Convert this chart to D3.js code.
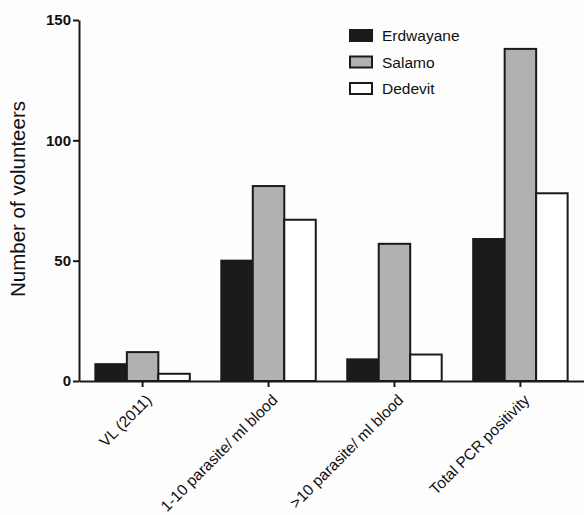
<!DOCTYPE html>
<html>
<head>
<meta charset="utf-8">
<script src="https://cdn.jsdelivr.net/npm/d3@7/dist/d3.min.js"></script>
<style>
  html, body { margin: 0; padding: 0; background: #fdfdfd; }
  svg { display: block; }
  text { font-family: "Liberation Sans", Arial, Helvetica, sans-serif; }
</style>
</head>
<body>
<svg id="chart" width="584" height="515"></svg>
<script>
// Categories, series and axis ticks
const categories = ["VL (2011)", "1-10 parasite/ ml blood", ">10 parasite/ ml blood", "Total PCR positivity"];
const seriesNames = ["Erdwayane", "Salamo", "Dedevit"];
const erdwayane = [7, 50, 9, 59];
const salamo = [12, 81, 57, 138];
const dedevit = [3, 67, 11, 78];
const yTicks = [0, 50, 100, 150];
const seriesColors = ["#1b1b1b", "#b1b1b1", "#ffffff"];

const seriesValues = [erdwayane, salamo, dedevit];

const svg = d3.select("#chart");
const margin = { left: 79, right: 0, top: 20, bottom: 134 };
const width = 584, height = 515;
const y0 = height - margin.bottom;

const x = d3.scaleBand()
  .domain(categories)
  .range([margin.left, width])
  .paddingInner(0.25)
  .paddingOuter(0.13);

const xSub = d3.scaleBand()
  .domain(seriesNames)
  .range([0, x.bandwidth()]);

const y = d3.scaleLinear()
  .domain([0, 150])
  .range([y0, margin.top]);

const color = d3.scaleOrdinal().domain(seriesNames).range(seriesColors);

// Bars
const groups = svg.append("g")
  .selectAll("g")
  .data(categories)
  .join("g")
  .attr("transform", d => `translate(${x(d)},0)`);

groups.selectAll("rect")
  .data((c, i) => seriesNames.map((s, k) => ({ s, v: seriesValues[k][i] })))
  .join("rect")
  .attr("x", d => xSub(d.s))
  .attr("y", d => y(d.v))
  .attr("width", xSub.bandwidth())
  .attr("height", d => y0 - y(d.v))
  .attr("fill", d => color(d.s))
  .attr("stroke", "#1a1a1a")
  .attr("stroke-width", 2);

// Y axis
const yAxis = svg.append("g")
  .attr("transform", `translate(${margin.left},0)`)
  .call(d3.axisLeft(y).tickValues(yTicks).tickSize(6).tickPadding(2).tickSizeOuter(0));
yAxis.select(".domain").attr("stroke", "#1a1a1a").attr("stroke-width", 2);
yAxis.selectAll(".tick line").attr("stroke", "#1a1a1a").attr("stroke-width", 2);
yAxis.selectAll(".tick text")
  .attr("fill", "#111")
  .style("font-size", "15px")
  .style("font-weight", "bold");

// X axis with slanted category labels
const xAxis = svg.append("g")
  .attr("transform", `translate(0,${y0})`)
  .call(d3.axisBottom(x).tickSize(6).tickSizeOuter(0));
xAxis.select(".domain").attr("stroke", "#1a1a1a").attr("stroke-width", 2);
xAxis.selectAll(".tick line").attr("stroke", "#1a1a1a").attr("stroke-width", 2);
xAxis.selectAll(".tick text")
  .attr("fill", "#111")
  .style("font-size", "15.5px")
  .attr("text-anchor", "end")
  .attr("x", 0)
  .attr("y", 0)
  .attr("dx", 0)
  .attr("dy", 0)
  .attr("transform", "translate(10,20) rotate(-45)");

// Y axis title
svg.append("text")
  .attr("transform", `translate(25,199) rotate(-90)`)
  .attr("text-anchor", "middle")
  .attr("fill", "#111")
  .style("font-size", "20.5px")
  .text("Number of volunteers");

// Legend
const legend = svg.append("g").attr("transform", "translate(350,30)");
const rows = legend.selectAll("g")
  .data(seriesNames)
  .join("g")
  .attr("transform", (d, i) => `translate(0,${i * 26.5})`);
rows.append("rect")
  .attr("width", 22)
  .attr("height", 11)
  .attr("fill", d => color(d))
  .attr("stroke", "#1a1a1a")
  .attr("stroke-width", 2);
rows.append("text")
  .attr("x", 32)
  .attr("y", 11)
  .attr("fill", "#111")
  .style("font-size", "15.5px")
  .text(d => d);
</script>
</body>
</html>
